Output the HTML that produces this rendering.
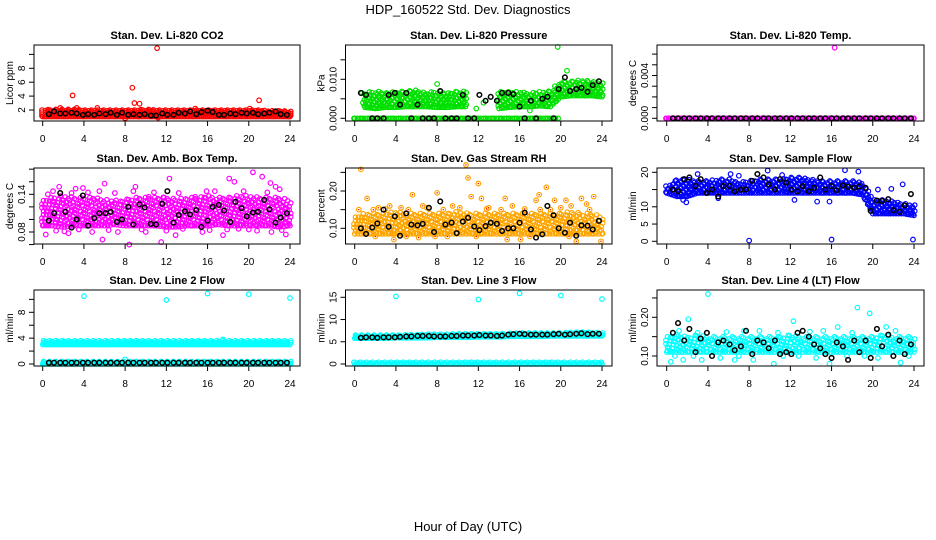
<!DOCTYPE html>
<html><head><meta charset="utf-8"><style>
html,body{margin:0;padding:0;background:#fff;}
svg{display:block;font-family:"Liberation Sans",sans-serif;}
</style></head><body>
<svg id="chart" width="936" height="540" viewBox="0 0 936 540" xmlns="http://www.w3.org/2000/svg">
<text x="468" y="14" text-anchor="middle" font-size="13">HDP_160522  Std. Dev. Diagnostics</text>
<text x="468" y="531" text-anchor="middle" font-size="13">Hour of Day (UTC)</text>
</svg>
<script>
const xTicks=[0,4,8,12,16,20,24];
const BH=[0.6,1.1,1.7,2.2,2.8,3.3,3.9,4.4,5.0,5.5,6.1,6.6,7.2,7.7,8.3,8.8,9.4,9.9,10.5,11.0,11.6,12.1,12.7,13.2,13.8,14.3,14.9,15.4,16.0,16.5,17.1,17.6,18.2,18.7,19.3,19.8,20.4,20.9,21.5,22.0,22.6,23.1,23.7];

// Panel 1 CO2
const co2Lo=[1.05,1.05,1.05,1.05,1.05,1.05,1.05,1.05,1.05,1.05,1.05,1.05,1.05,1.05,1.05,1.05,1.05,1.05,1.05,1.05,1.05,1.05,1.05,1.05,1.05];
const co2Hi=[2.0,2.1,2.1,2.1,2.0,2.0,2.0,2.0,2.0,2.0,2.1,2.0,2.0,2.0,2.0,2.0,2.0,2.0,2.0,2.0,2.0,2.0,1.9,1.9,1.8];
const co2Extra=[[1.7,2.3],[2.9,4.1],[3.3,2.3],[5.3,2.3],[8.7,5.2],[8.9,3.0],[9.4,2.9],[11.1,10.9],[21.0,3.4],[8.0,0.8],[11.2,0.9],[20.1,2.2],[14.8,2.2]];
const co2Black=[1.4,1.8,1.5,1.5,1.6,1.5,1.3,1.4,1.3,1.5,1.4,1.6,1.3,1.6,1.3,1.4,1.3,1.4,1.2,1.2,1.5,1.3,1.3,1.6,1.5,1.8,1.4,1.7,1.9,1.7,1.3,1.3,1.5,1.4,1.6,1.5,1.6,1.4,1.5,1.6,1.8,1.4,1.3];
const co2Ticks=[2,4,6,8,10];
const co2TickLabels=['2','4','6','8',''];

// Panel 2 Pressure
const prUpLo=[null,0.0028,0.0025,0.0028,0.0028,0.003,0.003,0.003,0.0028,0.0028,0.003,0.003,null,null,0.0025,0.0028,0.003,0.003,0.0032,0.003,0.0055,0.0058,0.0058,0.0058,0.0055];
const prUpHi=[null,0.0065,0.007,0.0065,0.0068,0.007,0.0072,0.0065,0.007,0.0065,0.007,0.0068,null,null,0.0068,0.0068,0.0068,0.0065,0.0068,0.007,0.0095,0.0095,0.0098,0.0095,0.009];
const prZeroLo=[0,0,0,0,0,0,0,0,0,0,0,0,0,0,0,0,0,0,0,0,0,null,null,null,null];
const prZeroHi=[0,0,0,0,0,0,0,0,0,0,0,0,0,0,0,0,0,0,0,0,0,null,null,null,null];
const prExtra=[[19.7,0.0183],[20.6,0.0122],[8.0,0.0088],[11.8,0.0025],[13.2,0.0055],[12.5,0.004],[17.0,0.002],[0.7,0.0065],[0.8,0.004]];
const prBlack=[0.0065,0.006,0,0,0,0.006,0.0065,0.0035,0.0065,0,0.0035,0,0,0,0.007,0,0,0,0.006,0,0,0.006,0.0045,0.0055,0.0045,0.0065,0.0065,0.0062,0.003,0,0.0045,0,0.005,0.0055,0,0.0075,0.0105,0.007,0.0075,0.0078,0.0068,0.0085,0.0095];
const prTicks=[0,0.005,0.010,0.015];
const prTickLabels=['0.000','','0.010',''];

// Panel 3 Li-820 Temp
const tmpLo=[0,0,0,0,0,0,0,0,0,0,0,0,0,0,0,0,0,0,0,0,0,0,0,0,0];
const tmpHi=[0,0,0,0,0,0,0,0,0,0,0,0,0,0,0,0,0,0,0,0,0,0,0,0,0];
const tmpExtra=[[16.3,0.0066],[0.2,0]];
const tmpBlack=[0,0,0,0,0,0,0,0,0,0,0,0,0,0,0,0,0,0,0,0,0,0,0,0,0,0,0,0,0,0,0,0,0,0,0,0,0,0,0,0,0,0,0];
const tmpTicks=[0,0.001,0.002,0.003,0.004,0.005,0.006];
const tmpTickLabels=['0.000','','','','0.004','',''];

// Panel 4 Amb box temp
const ambLo=[0.09,0.09,0.088,0.09,0.09,0.09,0.09,0.092,0.09,0.09,0.09,0.09,0.088,0.088,0.09,0.09,0.09,0.092,0.09,0.09,0.09,0.09,0.09,0.088,0.09];
const ambHi=[0.13,0.135,0.138,0.135,0.135,0.135,0.132,0.13,0.132,0.135,0.135,0.135,0.135,0.132,0.135,0.135,0.138,0.135,0.135,0.138,0.138,0.135,0.135,0.135,0.13];
const ambExtra=[[0.3,0.076],[1.6,0.152],[2.1,0.081],[3.2,0.149],[3.9,0.15],[5.5,0.145],[6.0,0.157],[7.3,0.08],[9.0,0.152],[10.3,0.136],[11.7,0.135],[12.3,0.165],[12.9,0.075],[14.5,0.09],[14.8,0.136],[17.5,0.075],[18.1,0.165],[18.6,0.16],[19.0,0.085],[20.4,0.175],[20.8,0.082],[21.3,0.168],[22.1,0.158],[22.6,0.152],[23.0,0.148],[23.6,0.076],[11.5,0.064],[5.8,0.068],[0.5,0.14],[8.4,0.06],[16.7,0.145],[13.6,0.085],[2.5,0.078],[4.8,0.08],[9.6,0.084],[15.5,0.08],[17.9,0.084],[22.2,0.08],[1.0,0.145],[2.8,0.142],[4.4,0.143],[7.0,0.142],[8.8,0.145],[10.8,0.143],[13.2,0.142],[15.9,0.145],[19.5,0.145],[21.8,0.143],[1.3,0.082],[3.5,0.084],[6.4,0.083],[10.0,0.08],[12.0,0.082],[16.2,0.083],[20.0,0.084],[23.2,0.083]];
const ambBlack=[0.098,0.11,0.142,0.112,0.087,0.1,0.138,0.09,0.102,0.11,0.11,0.112,0.096,0.1,0.12,0.092,0.124,0.119,0.093,0.092,0.125,0.145,0.095,0.107,0.113,0.108,0.115,0.088,0.098,0.12,0.123,0.114,0.096,0.128,0.118,0.105,0.111,0.112,0.131,0.116,0.095,0.103,0.11];
const ambTicks=[0.06,0.08,0.10,0.12,0.14,0.16,0.18];
const ambTickLabels=['','0.08','','','0.14','',''];

// Panel 5 Gas stream RH
const rhLo=[0.085,0.085,0.085,0.085,0.085,0.085,0.085,0.085,0.085,0.085,0.085,0.085,0.085,0.085,0.085,0.085,0.085,0.085,0.085,0.085,0.085,0.085,0.085,0.085,0.085];
const rhHi=[0.13,0.14,0.14,0.14,0.145,0.14,0.14,0.14,0.14,0.14,0.145,0.14,0.14,0.14,0.14,0.14,0.14,0.14,0.14,0.14,0.14,0.145,0.14,0.14,0.13];
const rhExtra=[[0.6,0.258],[1.2,0.18],[2.3,0.155],[3.4,0.16],[3.8,0.07],[5.6,0.19],[8.0,0.195],[9.5,0.16],[10.8,0.27],[11.0,0.235],[11.3,0.185],[12.0,0.22],[12.3,0.18],[14.6,0.18],[14.8,0.07],[16.1,0.07],[17.6,0.175],[17.9,0.19],[18.6,0.21],[19.4,0.175],[20.5,0.175],[21.5,0.065],[22.0,0.18],[22.5,0.165],[23.2,0.185],[23.9,0.065],[7.8,0.078],[6.2,0.075],[0.4,0.15],[4.5,0.155],[6.6,0.16],[10.2,0.155],[13.0,0.155],[15.3,0.16],[19.0,0.15],[21.0,0.16],[1.8,0.15],[3.0,0.152],[5.2,0.15],[7.0,0.155],[8.6,0.15],[12.8,0.152],[14.2,0.15],[16.5,0.152],[18.0,0.15],[20.0,0.155],[22.8,0.15],[2.0,0.078],[5.0,0.078],[9.0,0.078],[11.8,0.078],[17.0,0.078],[20.8,0.078]];
const rhBlack=[0.10,0.085,0.102,0.113,0.15,0.104,0.132,0.08,0.14,0.11,0.108,0.112,0.155,0.09,0.172,0.11,0.115,0.087,0.118,0.128,0.105,0.095,0.106,0.115,0.112,0.093,0.1,0.1,0.115,0.142,0.097,0.075,0.084,0.16,0.135,0.1,0.088,0.115,0.08,0.108,0.107,0.097,0.12];
const rhTicks=[0.10,0.15,0.20,0.25];
const rhTickLabels=['0.10','','0.20',''];

// Panel 6 Sample flow
const sfLo=[14,13,13,14,14,14,14,14,14,14,14,14,14,14,14,14,14,14,14,13.5,8,8,8,8,7.5];
const sfHi=[16,18,18,17.5,17.5,18,18,17,17.5,18,18,18,18.5,18.5,18,17.5,17.5,17.5,17.5,17,12,12,11.5,11,10.5];
const sfExtra=[[8.0,0.2],[16.0,0.5],[23.9,0.5],[9.8,20.5],[17.3,20.6],[18.6,20.2],[1.6,12],[5.0,12.5],[12.4,12],[14.6,11.5],[15.8,11.5],[20.5,15],[21.8,15.2],[22.9,16.5],[3.0,19.5],[6.2,19.5],[1.9,11.3],[7.0,19],[11.2,19.2]];
const sfBlack=[15,14.5,18,18.5,16,18,14,15,13,16,16,14.5,15,15,17.5,19.5,18.5,16.5,15,18,17,15,14.5,16,14.5,15.5,18.5,15,16,14.8,16.2,15.8,15.5,15.9,15.5,8.8,11.8,11.7,12.2,9,8.5,10.4,13.7];
const sfTicks=[0,5,10,15,20];
const sfTickLabels=['0','5','10','','20'];

// Panel 7 Line 2 flow
const l2TopLo=[3.0,3.0,3.0,3.0,3.0,3.0,3.0,3.0,3.0,3.0,3.0,3.0,3.0,3.0,3.0,3.0,3.0,3.0,3.0,3.0,3.0,3.0,3.0,3.0,3.0];
const l2TopHi=[3.6,3.6,3.6,3.6,3.6,3.6,3.6,3.6,3.6,3.6,3.6,3.6,3.6,3.6,3.6,3.6,3.6,3.6,3.6,3.6,3.6,3.6,3.6,3.6,3.6];
const l2BotLo=[0,0,0,0,0,0,0,0,0,0,0,0,0,0,0,0,0,0,0,0,0,0,0,0,0];
const l2BotHi=[0.4,0.4,0.4,0.4,0.4,0.4,0.4,0.4,0.4,0.4,0.4,0.4,0.4,0.4,0.4,0.4,0.4,0.4,0.4,0.4,0.4,0.4,0.4,0.4,0.4];
const l2Extra=[[4,10.5],[12,9.9],[16,10.9],[20,10.8],[24,10.2],[8,0.7],[17.5,3.8]];
const l2Black=[0.2,0.2,0.2,0.2,0.2,0.2,0.2,0.2,0.2,0.2,0.2,0.2,0.2,0.2,0.2,0.2,0.2,0.2,0.2,0.2,0.2,0.2,0.2,0.2,0.2,0.2,0.2,0.2,0.2,0.2,0.2,0.2,0.2,0.2,0.2,0.2,0.2,0.2,0.2,0.2,0.2,0.2,0.2];
const l2Ticks=[0,2,4,6,8,10];
const l2TickLabels=['0','','4','','8',''];

// Panel 8 Line 3 flow
const l3TopLo=[5.8,5.8,5.8,5.8,5.9,5.9,5.9,5.9,6.0,6.0,6.0,6.0,6.1,6.1,6.1,6.2,6.2,6.2,6.2,6.3,6.3,6.3,6.3,6.3,6.3];
const l3TopHi=[6.5,6.5,6.5,6.5,6.5,6.6,6.6,6.7,6.7,6.7,6.8,6.8,6.8,6.8,6.8,6.9,7.0,7.0,7.0,7.0,7.0,7.1,7.2,7.1,7.0];
const l3BotLo=[0,0,0,0,0,0,0,0,0,0,0,0,0,0,0,0,0,0,0,0,0,0,0,0,0];
const l3BotHi=[0.4,0.4,0.4,0.4,0.4,0.4,0.4,0.4,0.4,0.4,0.4,0.4,0.4,0.4,0.4,0.4,0.4,0.4,0.4,0.4,0.4,0.4,0.4,0.4,0.4];
const l3Extra=[[4,15.2],[12,14.5],[16,15.9],[20,15.4],[24,14.6]];
const l3Black=[5.9,6.0,6.0,5.9,6.0,6.0,6.0,6.1,6.2,6.2,6.3,6.3,6.3,6.2,6.2,6.2,6.3,6.3,6.4,6.4,6.4,6.5,6.4,6.4,6.3,6.4,6.6,6.7,6.8,6.7,6.6,6.6,6.6,6.6,6.7,6.8,6.6,6.7,6.8,6.9,6.7,6.8,6.8];
const l3Ticks=[0,5,10,15];
const l3TickLabels=['0','5','10','15'];

// Panel 9 Line 4 flow
const l4Lo=[0.11,0.11,0.11,0.11,0.11,0.11,0.11,0.11,0.11,0.11,0.11,0.11,0.11,0.11,0.11,0.11,0.11,0.11,0.11,0.11,0.11,0.11,0.11,0.11,0.11];
const l4Hi=[0.15,0.155,0.15,0.155,0.15,0.15,0.15,0.15,0.15,0.15,0.15,0.15,0.155,0.15,0.15,0.15,0.15,0.15,0.15,0.15,0.15,0.155,0.15,0.15,0.15];
const l4Extra=[[4,0.26],[18.5,0.225],[19.7,0.21],[0.4,0.085],[1.6,0.09],[2.1,0.195],[15.8,0.08],[16.6,0.175],[21.3,0.175],[22.7,0.083],[10.4,0.08],[8.4,0.09],[12.3,0.19],[13.9,0.163],[3.4,0.09],[6.6,0.09],[9.0,0.165],[0.8,0.1],[5.2,0.095],[7.5,0.165],[11.3,0.1],[14.5,0.095],[17.5,0.1],[20.5,0.095],[23.5,0.1],[1.2,0.165],[3.0,0.16],[5.8,0.162],[10.8,0.16],[15.2,0.165],[18.0,0.16],[22.2,0.165],[2.6,0.1],[7.0,0.1],[12.8,0.1],[19.2,0.1]];
const l4Black=[0.16,0.185,0.14,0.17,0.11,0.145,0.16,0.1,0.135,0.14,0.13,0.115,0.125,0.165,0.105,0.14,0.135,0.12,0.14,0.105,0.11,0.105,0.16,0.165,0.15,0.13,0.12,0.105,0.095,0.135,0.125,0.09,0.14,0.11,0.14,0.095,0.17,0.125,0.155,0.1,0.14,0.105,0.13];
const l4Ticks=[0.10,0.15,0.20,0.25];
const l4TickLabels=['0.10','','0.20',''];

const NS='http://www.w3.org/2000/svg';
const svg=document.getElementById('chart');
function mk(tag,attrs,parent){const e=document.createElementNS(NS,tag);for(const k in attrs)e.setAttribute(k,attrs[k]);(parent||svg).appendChild(e);return e;}

const panels=[
 {id:'co2',row:0,col:0,title:'Stan. Dev. Li-820 CO2',ylab:'Licor ppm',a:[2,110,8,68.3],ticks:co2Ticks,tl:co2TickLabels,color:'#ff0000',bands:[[co2Lo,co2Hi]],extra:co2Extra,black:co2Black,dx:0.2,dy:2},
 {id:'pressure',row:0,col:1,title:'Stan. Dev. Li-820 Pressure',ylab:'kPa',a:[0,118.3,0.010,79.3],ticks:prTicks,tl:prTickLabels,color:'#00e000',bands:[[prUpLo,prUpHi],[prZeroLo,prZeroHi]],extra:prExtra,black:prBlack,dx:0.25,dy:3},
 {id:'licor-temp',row:0,col:2,title:'Stan. Dev. Li-820 Temp.',ylab:'degrees C',a:[0,118.3,0.004,75.5],ticks:tmpTicks,tl:tmpTickLabels,color:'#ff00ff',bands:[[tmpLo,tmpHi]],extra:tmpExtra,black:tmpBlack,dx:0.25,dy:3},
 {id:'amb-temp',row:1,col:0,title:'Stan. Dev. Amb. Box Temp.',ylab:'degrees C',a:[0.08,232,0.14,194.3],ticks:ambTicks,tl:ambTickLabels,color:'#ff00ff',bands:[[ambLo,ambHi]],extra:ambExtra,black:ambBlack,dx:0.3,dy:3.5},
 {id:'gas-rh',row:1,col:1,title:'Stan. Dev. Gas Stream RH',ylab:'percent',a:[0.10,228.3,0.20,191],ticks:rhTicks,tl:rhTickLabels,color:'#ffa500',bands:[[rhLo,rhHi]],extra:rhExtra,black:rhBlack,dot:'#ff0000',dx:0.3,dy:3.5},
 {id:'sample-flow',row:1,col:2,title:'Stan. Dev. Sample Flow',ylab:'ml/min',a:[0,241.3,20,172.3],ticks:sfTicks,tl:sfTickLabels,color:'#0000ff',bands:[[sfLo,sfHi]],extra:sfExtra,black:sfBlack,dx:0.25,dy:3},
 {id:'line2-flow',row:2,col:0,title:'Stan. Dev. Line 2 Flow',ylab:'ml/min',a:[0,364,8,312.3],ticks:l2Ticks,tl:l2TickLabels,color:'#00ffff',bands:[[l2TopLo,l2TopHi],[l2BotLo,l2BotHi]],extra:l2Extra,black:l2Black,dx:0.2,dy:2},
 {id:'line3-flow',row:2,col:1,title:'Stan. Dev. Line 3 Flow',ylab:'ml/min',a:[0,364,15,297.3],ticks:l3Ticks,tl:l3TickLabels,color:'#00ffff',bands:[[l3TopLo,l3TopHi],[l3BotLo,l3BotHi]],extra:l3Extra,black:l3Black,dx:0.2,dy:2},
 {id:'line4-flow',row:2,col:2,title:'Stan. Dev. Line 4 (LT) Flow',ylab:'ml/min',a:[0.10,356,0.20,317.3],ticks:l4Ticks,tl:l4TickLabels,color:'#00ffff',bands:[[l4Lo,l4Hi]],extra:l4Extra,black:l4Black,dx:0.3,dy:3.5}
];
const TOPS=[45,168,290],BOTS=[121,244,366];

function interp(arr,h){const i=Math.floor(h),f=h-i;if(i>=24)return arr[24];const a=arr[i],b=arr[i+1];if(a===null||b===null)return null;return a+(b-a)*f;}

panels.forEach(p=>{
 const bx0=34+311.5*p.col,bx1=300+312*p.col,by0=TOPS[p.row],by1=BOTS[p.row];
 const xs=h=>42.7+312*p.col+h*(247.3/24);
 const ys=v=>p.a[1]+(v-p.a[0])*(p.a[3]-p.a[1])/(p.a[2]-p.a[0]);
 const g=mk('g',{});
 
 
 const t=mk('text',{x:(bx0+bx1)/2,y:by0-6,'text-anchor':'middle','font-size':'11','font-weight':'bold'},g);
 
 
 t.textContent=p.title;
 const yl=mk('text',{x:bx0-21,y:(by0+by1)/2,'text-anchor':'middle','font-size':'10',transform:`rotate(-90 ${bx0-21} ${(by0+by1)/2})`},g);
 
 
 yl.textContent=p.ylab;
 xTicks.forEach(v=>{
  const x=xs(v);
  const tk=mk('line',{x1:x,x2:x,y1:by1,y2:by1+5,stroke:'#000','stroke-width':1},g);
  
  
  const lb=mk('text',{x:x,y:by1+21,'text-anchor':'middle','font-size':'10'},g);
  
  
  lb.textContent=v;
 });
 p.ticks.forEach((v,i)=>{
  const y=ys(v);
  const tk=mk('line',{x1:bx0-5,x2:bx0,y1:y,y2:y,stroke:'#000','stroke-width':1},g);
  
  
  if(p.tl[i]){
   const lb=mk('text',{x:bx0-9,y:y,'text-anchor':'middle','font-size':'10',transform:`rotate(-90 ${bx0-9} ${y})`},g);
   
   
   lb.textContent=p.tl[i];
  }
 });
 const pts=mk('g',{fill:'none',stroke:p.color,'stroke-width':1.2},g);
 
 
 p.bands.forEach(b=>{
  let col=0;
  for(let h=0;h<=24.001;h+=p.dx,col++){
   const lo=interp(b[0],h),hi=interp(b[1],h);
   if(lo===null||hi===null)continue;
   const ytop=ys(hi),ybot=ys(lo);
   const off=(col%3)*p.dy/3;
   for(let y=ytop+off;y<=ybot+0.01;y+=p.dy){
    const c=mk('circle',{cx:xs(h)+((Math.round(y)%2)?0.8:-0.8),cy:y,r:2.2},pts);
    
    
   }
   const c2=mk('circle',{cx:xs(h),cy:ybot,r:2.2},pts);
   
   
  }
 });
 p.extra.forEach(d=>{
  const c=mk('circle',{cx:xs(d[0]),cy:ys(d[1]),r:2.3},pts);
  
  
 });
 if(p.dot){
  const dg=mk('g',{fill:p.dot},g);
  p.extra.forEach(d=>{const c=mk('circle',{cx:xs(d[0]),cy:ys(d[1]),r:0.7},dg);});
 }
 const bg=mk('g',{fill:'none',stroke:'#000','stroke-width':1.5},g);
 
 
 p.black.forEach((v,i)=>{
  const c=mk('circle',{cx:xs(BH[i]),cy:ys(v),r:2.3},bg);
  
  
 });
 const box=mk('rect',{x:bx0,y:by0,width:bx1-bx0,height:by1-by0,fill:'none',stroke:'#000','stroke-width':1},g);
 
 
});
</script>
</body></html>
